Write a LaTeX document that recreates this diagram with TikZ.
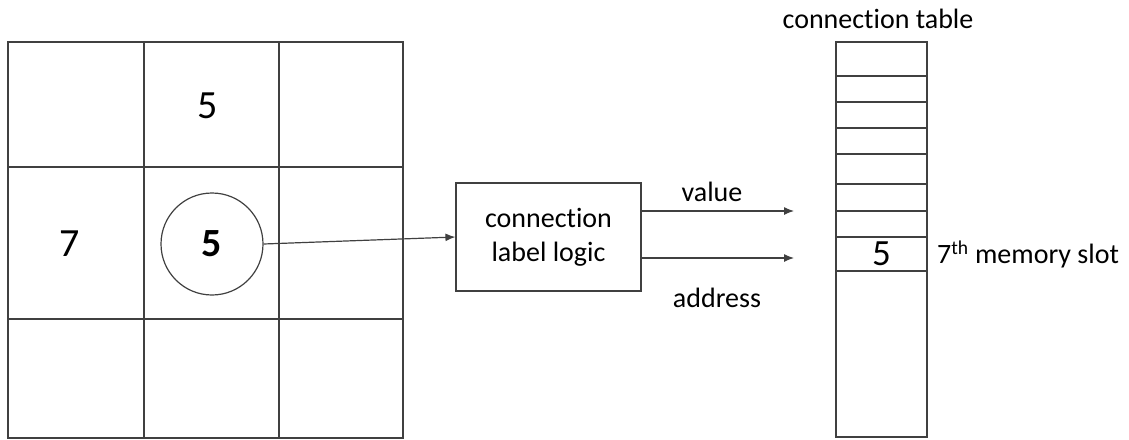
\documentclass[tikz,border=0pt]{standalone}
\usepackage{fontspec}
\setmainfont[Ligatures={NoCommon,NoContextual},RawFeature={-liga;-clig;-calt}]{Carlito}
\usetikzlibrary{arrows.meta}
\begin{document}
\begin{tikzpicture}[x=1pt,y=-1pt,
  line/.style={draw=black!75,line width=1.2pt},
  conn/.style={line,-{Latex[length=10pt,width=8pt]}},
  lbl/.style={font=\fontsize{28}{30}\selectfont,inner sep=0pt},
  big/.style={font=\fontsize{40}{44}\selectfont,inner sep=0pt}]
\useasboundingbox (0,0) rectangle (1129,439);

% 3x3 neighbourhood grid
\draw[line] (8,42) rectangle (403,438);
\draw[line] (144,42) -- (144,438) (279,42) -- (279,438);
\draw[line] (8,167) -- (403,167) (8,319) -- (403,319);
\node[big] (top) at (208,106) {5};
\node[big] (left) at (70,244) {7};
\node[line,circle,minimum size=102pt,inner sep=0pt,
      font=\fontsize{40}{44}\selectfont\bfseries] (c) at (212,244) {5};

% labelling logic block
\node[line,minimum width=185pt,minimum height=108pt,inner sep=0pt,
      align=center,font=\fontsize{28}{34}\selectfont] (logic) at (548.5,237)
      {connect\kern0pt ion\\label logic};
\draw[conn] (c.east) -- (logic.west);

\coordinate (vend) at (794,211);
\coordinate (aend) at (794,258);
\draw[conn] (logic.east |- vend) -- (vend);
\draw[conn] (logic.east |- aend) -- (aend);
\node[lbl] (vlab) at (712,192) {value};
\node[lbl] (alab) at (717,298) {address};

% connection table
\draw[line] (836,42) rectangle (927,437);
\foreach \y in {76,102,128,154,184,211,237,271}
  \draw[line] (836,\y) -- (927,\y);
\node[inner sep=0pt,font=\fontsize{37}{40}\selectfont] (slot) at (881.5,254) {5};
\node[lbl,anchor=west] (slotlab) at (937,254) {7\textsuperscript{th} memory slot};
\node[lbl] (title) at (878,19) {connect\kern0pt ion table};
\end{tikzpicture}
\end{document}
